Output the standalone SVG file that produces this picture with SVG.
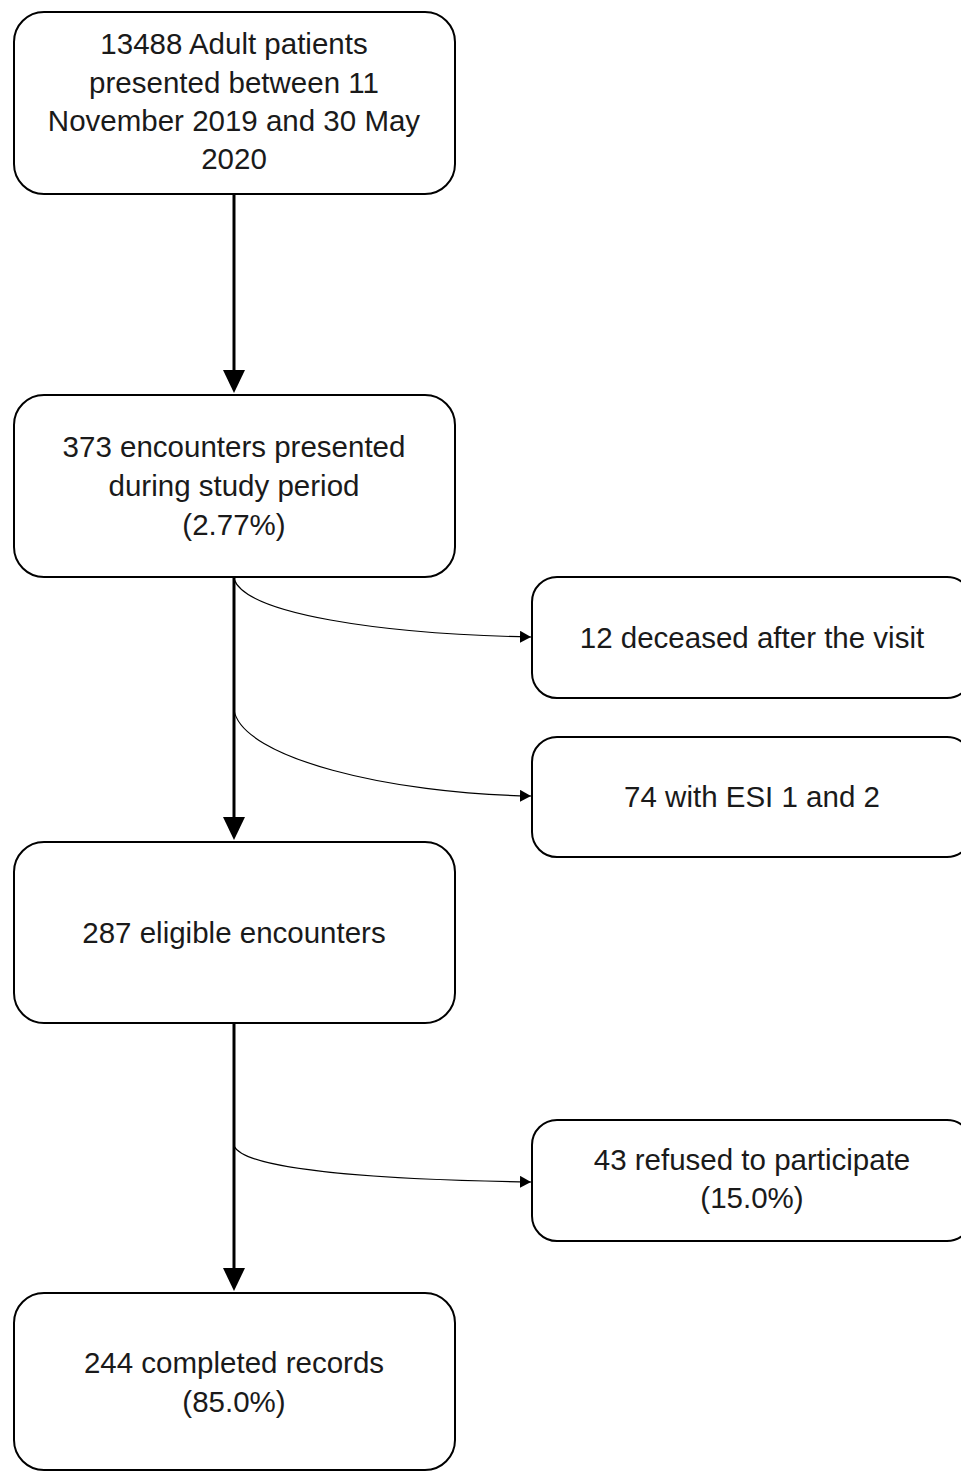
<svg xmlns="http://www.w3.org/2000/svg" width="961" height="1471" viewBox="0 0 961 1471">
<defs>
<style>
.box{fill:#fff;stroke:#000;stroke-width:2}
.t{font-family:"Liberation Sans",Arial,sans-serif;font-size:29.5px;fill:#1a1a1a;text-anchor:middle}
.main{stroke:#000;stroke-width:3;fill:none}
.side{stroke:#000;stroke-width:1.2;fill:none}
.head{fill:#000}
</style>
<marker id="sm" markerUnits="userSpaceOnUse" markerWidth="12" markerHeight="12" refX="11" refY="6" orient="auto">
<path d="M0,0 L11,6 L0,12 Z" fill="#000"/>
</marker>
</defs>
<rect width="961" height="1471" fill="#fff"/>
<g id="connectors">
<line class="main" x1="234" y1="194" x2="234" y2="372"/>
<polygon class="head" points="223,370 245,370 234,393"/>
<line class="main" x1="234" y1="577" x2="234" y2="818"/>
<polygon class="head" points="223,817 245,817 234,840"/>
<line class="main" x1="234" y1="1023" x2="234" y2="1268"/>
<polygon class="head" points="223,1268 245,1268 234,1291"/>
<path class="side" d="M234,579 C246,614 380,634 531,637" marker-end="url(#sm)"/>
<path class="side" d="M234,710 C242,758 390,794 531,796" marker-end="url(#sm)"/>
<path class="side" d="M234,1146 C246,1172 400,1180 531,1182" marker-end="url(#sm)"/>
</g>
<g id="node1">
<rect class="box" x="14" y="12" width="441" height="182" rx="30"/>
<text class="t" x="234" y="54">13488 Adult patients</text>
<text class="t" x="234" y="93">presented between 11</text>
<text class="t" x="234" y="131">November 2019 and 30 May</text>
<text class="t" x="234" y="169">2020</text>
</g>
<g id="node2">
<rect class="box" x="14" y="395" width="441" height="182" rx="30"/>
<text class="t" x="234" y="457">373 encounters presented</text>
<text class="t" x="234" y="496">during study period</text>
<text class="t" x="234" y="535">(2.77%)</text>
</g>
<g id="node3">
<rect class="box" x="532" y="577" width="440" height="121" rx="25"/>
<text class="t" x="752" y="648">12 deceased after the visit</text>
</g>
<g id="node4">
<rect class="box" x="532" y="737" width="440" height="120" rx="25"/>
<text class="t" x="752" y="807">74 with ESI 1 and 2</text>
</g>
<g id="node5">
<rect class="box" x="14" y="842" width="441" height="181" rx="30"/>
<text class="t" x="234" y="943">287 eligible encounters</text>
</g>
<g id="node6">
<rect class="box" x="532" y="1120" width="440" height="121" rx="25"/>
<text class="t" x="752" y="1170">43 refused to participate</text>
<text class="t" x="752" y="1208">(15.0%)</text>
</g>
<g id="node7">
<rect class="box" x="14" y="1293" width="441" height="177" rx="30"/>
<text class="t" x="234" y="1373">244 completed records</text>
<text class="t" x="234" y="1412">(85.0%)</text>
</g>
</svg>
